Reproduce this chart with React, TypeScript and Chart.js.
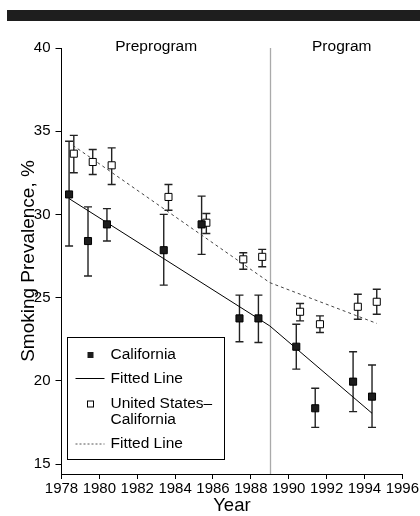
import React, { useEffect, useRef } from 'react';
import { Chart, registerables } from 'chart.js';

Chart.register(...registerables);

// California (filled squares)
const caYears = [1978.4, 1979.4, 1980.4, 1983.4, 1985.4, 1987.4, 1988.4, 1990.4, 1991.4, 1993.4, 1994.4];
const caValues = [31.2, 28.4, 29.4, 27.85, 29.4, 23.75, 23.75, 22.05, 18.35, 19.95, 19.05];
const caLow = [28.1, 26.3, 28.4, 25.75, 27.6, 22.35, 22.3, 20.7, 17.2, 18.15, 17.2];
const caHigh = [34.4, 30.45, 30.35, 30.0, 31.1, 25.15, 25.15, 23.4, 19.55, 21.75, 20.95];

// United States–California (open squares)
const usYears = [1978.65, 1979.65, 1980.65, 1983.65, 1985.65, 1987.6, 1988.6, 1990.6, 1991.65, 1993.65, 1994.65];
const usValues = [33.65, 33.15, 32.95, 31.05, 29.5, 27.3, 27.45, 24.15, 23.4, 24.45, 24.75];
const usLow = [32.5, 32.4, 31.8, 30.25, 28.85, 26.7, 26.85, 23.6, 22.9, 23.7, 24.0];
const usHigh = [34.75, 33.9, 34.0, 31.8, 30.05, 27.7, 27.9, 24.65, 23.9, 25.2, 25.5];

// Fitted lines (piecewise, break at program start)
const caFitYears = [1978.4, 1989, 1994.4];
const caFitValues = [30.95, 23.3, 18.05];
const usFitYears = [1978.6, 1989, 1994.65];
const usFitValues = [34.15, 25.9, 23.45];

const programStart = 1989;
const periodLabels = ['Preprogram', 'Program'];
const periodCenters = [1983.0, 1992.8];
const legendLabels = ['California', 'Fitted Line', 'United States–', 'California', 'Fitted Line'];

const FONT = "'Liberation Sans', Arial, Helvetica, sans-serif";

export default function App() {
  const ref = useRef<HTMLCanvasElement>(null);

  useEffect(() => {
    if (!ref.current) return;
    const toPts = (xs: number[], ys: number[]) => xs.map((x, i) => ({ x, y: ys[i] }));

    const overlay = {
      id: 'overlay',
      beforeDatasetsDraw(chart: any) {
        const { ctx, scales, chartArea } = chart;
        const x = scales.x;
        const y = scales.y;
        ctx.save();
        // program start vertical line
        const px = Math.round(x.getPixelForValue(programStart)) + 0.5;
        ctx.strokeStyle = '#aaaaaa';
        ctx.lineWidth = 1.3;
        ctx.beginPath();
        ctx.moveTo(px, y.getPixelForValue(40));
        ctx.lineTo(px, chartArea.bottom);
        ctx.stroke();
        // error bars
        const drawBars = (xs: number[], lo: number[], hi: number[]) => {
          ctx.strokeStyle = '#222';
          ctx.lineWidth = 1.4;
          xs.forEach((xv, i) => {
            const cx = x.getPixelForValue(xv);
            const yl = y.getPixelForValue(lo[i]);
            const yh = y.getPixelForValue(hi[i]);
            ctx.beginPath();
            ctx.moveTo(cx, yl);
            ctx.lineTo(cx, yh);
            ctx.moveTo(cx - 4, yl);
            ctx.lineTo(cx + 4, yl);
            ctx.moveTo(cx - 4, yh);
            ctx.lineTo(cx + 4, yh);
            ctx.stroke();
          });
        };
        drawBars(caYears, caLow, caHigh);
        drawBars(usYears, usLow, usHigh);
        ctx.restore();
      },
      afterDatasetsDraw(chart: any) {
        const { ctx, scales, chartArea } = chart;
        const x = scales.x;
        const y = scales.y;
        ctx.save();
        // period labels
        ctx.fillStyle = '#000';
        ctx.font = `15.5px ${FONT}`;
        ctx.textAlign = 'center';
        ctx.textBaseline = 'middle';
        periodLabels.forEach((t, i) => {
          ctx.fillText(t, x.getPixelForValue(periodCenters[i]), y.getPixelForValue(40) - 1);
        });
        // legend
        const L = chartArea.left + 6;
        const T = 337.5;
        const W = 157;
        const H = 122;
        ctx.fillStyle = '#fff';
        ctx.fillRect(L, T, W, H);
        ctx.strokeStyle = '#000';
        ctx.lineWidth = 1;
        ctx.strokeRect(L, T, W, H);
        const mx = L + 23;
        const tx = L + 43;
        const rows = [355, 378.5, 404, 420, 444];
        // markers
        ctx.fillStyle = '#1c1c1c';
        ctx.fillRect(mx - 3, rows[0] - 3, 6, 6);
        ctx.beginPath();
        ctx.moveTo(L + 8, rows[1]);
        ctx.lineTo(L + 37, rows[1]);
        ctx.strokeStyle = '#000';
        ctx.stroke();
        ctx.fillStyle = '#fff';
        ctx.fillRect(mx - 3, rows[2] - 3, 6, 6);
        ctx.strokeRect(mx - 3, rows[2] - 3, 6, 6);
        ctx.setLineDash([2, 2]);
        ctx.strokeStyle = '#555';
        ctx.beginPath();
        ctx.moveTo(L + 8, rows[4]);
        ctx.lineTo(L + 37, rows[4]);
        ctx.stroke();
        ctx.setLineDash([]);
        ctx.fillStyle = '#000';
        ctx.textAlign = 'left';
        legendLabels.forEach((t, i) => ctx.fillText(t, tx, rows[i]));
        ctx.restore();
      },
    };

    const chart = new Chart(ref.current, {
      type: 'scatter',
      data: {
        datasets: [
          {
            label: 'California',
            data: toPts(caYears, caValues),
            pointStyle: 'rect',
            pointRadius: 5,
            backgroundColor: '#1c1c1c',
            borderColor: '#000',
            borderWidth: 1,
            order: 0,
          },
          {
            label: 'United States–California',
            data: toPts(usYears, usValues),
            pointStyle: 'rect',
            pointRadius: 5,
            backgroundColor: '#fff',
            borderColor: '#000',
            borderWidth: 1,
            order: 0,
          },
          {
            label: 'Fitted Line',
            data: toPts(caFitYears, caFitValues),
            showLine: true,
            pointRadius: 0,
            borderColor: '#000',
            borderWidth: 1,
            order: 1,
          },
          {
            label: 'Fitted Line (US)',
            data: toPts(usFitYears, usFitValues),
            showLine: true,
            pointRadius: 0,
            borderColor: '#444',
            borderWidth: 1,
            borderDash: [3, 3],
            order: 1,
          },
        ] as any,
      },
      options: {
        animation: false,
        responsive: false,
        layout: { padding: { left: 0, right: 17, top: 48, bottom: 0 } },
        plugins: { legend: { display: false }, tooltip: { enabled: false } },
        scales: {
          x: {
            type: 'linear',
            min: 1978,
            max: 1996,
            ticks: {
              stepSize: 2,
              autoSkip: false,
              maxRotation: 0,
              padding: 1,
              color: '#000',
              font: { family: FONT, size: 15 },
              callback: (v: any) => String(v),
            },
            grid: { drawOnChartArea: false, drawTicks: true, tickLength: 5, color: '#000' },
            border: { display: true, color: '#000', width: 1 },
            title: {
              display: true,
              text: 'Year',
              color: '#000',
              font: { family: FONT, size: 18.5, lineHeight: 1 },
              padding: { top: 0, bottom: 1 },
            },
            afterFit: (s: any) => {
              s.height = 42;
            },
          },
          y: {
            type: 'linear',
            min: 14.4,
            max: 40,
            ticks: {
              stepSize: 5,
              includeBounds: false,
              padding: 5,
              color: '#000',
              font: { family: FONT, size: 15 },
            },
            grid: { drawOnChartArea: false, drawTicks: true, tickLength: 6, color: '#000' },
            border: { display: true, color: '#000', width: 1 },
            title: {
              display: true,
              text: 'Smoking Prevalence, %',
              color: '#000',
              font: { family: FONT, size: 19, lineHeight: 1.2 },
              padding: { top: 17, bottom: 0 },
            },
            afterFit: (s: any) => {
              s.width = 61.5;
            },
          },
        },
      } as any,
      plugins: [overlay],
    });
    return () => chart.destroy();
  }, []);

  return (
    <div style={{ position: 'absolute', left: 0, top: 0, width: 420, height: 516, background: '#fff' }}>
      <div style={{ position: 'absolute', left: 7, top: 10, width: 413, height: 11, background: '#1e1e1e' }} />
      <canvas ref={ref} width={420} height={516} style={{ position: 'absolute', left: 0, top: 0 }} />
    </div>
  );
}
